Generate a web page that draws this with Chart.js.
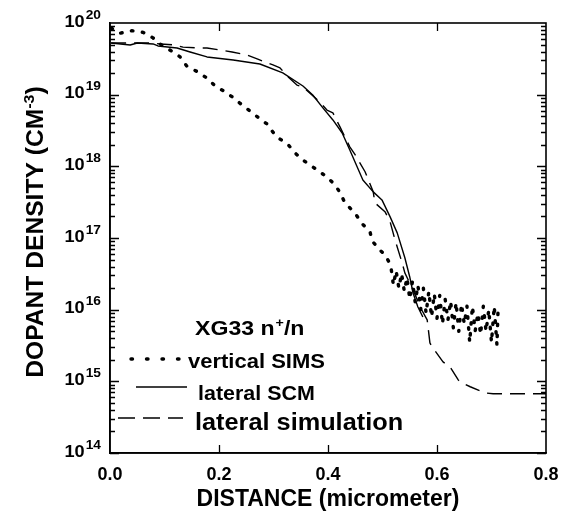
<!DOCTYPE html>
<html><head><meta charset="utf-8">
<script src="https://cdn.jsdelivr.net/npm/chart.js@4"></script>
<style>html,body{margin:0;padding:0;background:#fff}canvas{display:block}</style>
</head><body>
<canvas id="c" width="570" height="519"></canvas>
<script>
// ---- data ----
const simsX = [0.002,0.018,0.040,0.061,0.079,0.095,0.112,0.128,0.141,0.160,0.178,0.193,0.209,0.228,0.242,0.257,0.272,0.288,0.299,0.312,0.327,0.339,0.352,0.361,0.380,0.398,0.413,0.422,0.431,0.450,0.462,0.477,0.481,0.495,0.505,0.510,
  0.515,0.520,0.525,0.530,0.535,0.540,0.545,0.550,0.555,0.560,0.565,0.570,0.575,0.580,0.585,0.590,0.595,0.600,0.605,0.610,0.615,0.620,0.625,0.630,0.635,0.640,0.645,0.650,0.655,0.660,0.665,0.670,0.675,0.680,0.685,0.690,0.695,0.700,0.705,0.710,0.712];
const simsY = [8.5e19,7.2e19,7.8e19,7.4e19,6.2e19,4.9e19,4.1e19,3.4e19,2.5e19,2.1e19,1.7e19,1.32e19,1.12e19,8.9e18,7.2e18,5.9e18,4.8e18,3.9e18,3.0e18,2.4e18,2.0e18,1.55e18,1.26e18,1.12e18,8.9e17,7.1e17,5.5e17,4.3e17,3.1e17,2.2e17,1.6e17,1.23e17,9.1e16,6.8e16,5.8e16,4.9e16,
  4.2e16,2.2e16,3.5e16,2.0e16,3.2e16,1.8e16,2.8e16,1.4e16,2.5e16,1.26e16,2.2e16,1.0e16,2.0e16,8.9e15,1.8e16,7.9e15,1.66e16,7.6e15,1.58e16,6.3e15,1.4e16,7.1e15,1.32e16,5.6e15,1.26e16,5.0e15,1.2e16,6.3e15,1.12e16,3.5e15,1.12e16,5.0e15,8.9e15,4.5e15,1.12e16,5.0e15,1.0e16,3.5e15,1.12e16,3.2e15,1.0e16];

const scmX = [0.002,0.037,0.050,0.079,0.088,0.123,0.147,0.178,0.226,0.275,0.317,0.354,0.372,0.391,0.409,0.426,0.440,0.464,0.483,0.499,0.514,0.527,0.541,0.550,0.556,0.565,0.574];
const scmY = [5.26e19,4.93e19,5.26e19,5.1e19,4.78e19,4.48e19,3.94e19,3.36e19,3.05e19,2.68e19,2.01e19,1.32e19,9.9e18,6.5e18,4.44e18,2.92e18,1.69e18,6.46e17,4.4e17,3.4e17,1.97e17,1.18e17,5.3e16,2.86e16,1.71e16,1.09e16,7.9e15];

const simX = [0.002,0.050,0.073,0.092,0.119,0.134,0.165,0.178,0.202,0.224,0.251,0.270,0.299,0.312,0.327,0.343,0.354,0.385,0.398,0.409,0.422,0.440,0.450,0.468,0.483,0.486,0.505,0.514,0.523,0.536,0.541,0.556,0.572,0.582,0.587,0.591,0.611,0.624,0.639,0.642,0.661,0.688,0.703,0.800];
const simY = [5.26e19,5.26e19,5.26e19,5.1e19,4.93e19,4.6e19,4.48e19,4.48e19,4.2e19,3.94e19,3.58e19,3.15e19,2.6e19,2.36e19,1.77e19,1.36e19,1.28e19,7.9e18,6.1e18,5.56e18,3.55e18,1.87e18,1.44e18,8.4e17,4.4e17,3.1e17,2.3e17,1.68e17,9.4e16,4.5e16,3.26e16,1.89e16,9.9e15,7.2e15,3.44e15,3.03e15,1.87e15,1.59e15,1.05e15,9.8e14,8.4e14,6.9e14,6.7e14,6.7e14];

const seriesNames = ['vertical SIMS','lateral SCM','lateral simulation'];
const legendTitle = ['XG33 n','+','/n'];
const xTickStep = 0.2;
const yDecades = [14,15,16,17,18,19,20];
const xTitle = 'DISTANCE (micrometer)';
const yTitle = ['DOPANT DENSITY (CM','-3',')'];

// ---- drawing ----
const FAM = "'Liberation Sans', Arial, Helvetica, sans-serif";
function pts(xs, ys){ return xs.map((x,i)=>({x:x, y:ys[i]})); }

function txt(ctx, s, x, y, size, stretch){
  ctx.save();
  ctx.font = 'bold ' + size + 'px ' + FAM;
  ctx.textAlign = 'left'; ctx.textBaseline = 'alphabetic';
  ctx.translate(x, y); ctx.scale(stretch || 1, 1);
  ctx.fillText(s, 0, 0);
  const w = ctx.measureText(s).width * (stretch || 1);
  ctx.restore();
  return w;
}
function measure(ctx, s, size, stretch){
  ctx.save(); ctx.font = 'bold ' + size + 'px ' + FAM;
  const w = ctx.measureText(s).width * (stretch||1); ctx.restore(); return w;
}

const decor = {
  id: 'decor',
  afterDatasetsDraw(chart){
    const ctx = chart.ctx;
    const {left, right, top, bottom} = chart.chartArea;
    const xs = chart.scales.x, ys = chart.scales.y;
    ctx.save();
    ctx.fillStyle = '#000';
    ctx.strokeStyle = '#000';
    ctx.lineWidth = 1.6;
    ctx.setLineDash([]);
    ctx.strokeRect(left, top, right - left, bottom - top);
    ctx.lineWidth = 1.3;
    ctx.beginPath();
    for (let v = xTickStep; v < 0.8 - 1e-9; v += xTickStep) {
      const px = Math.round(xs.getPixelForValue(v)) + 0.5;
      ctx.moveTo(px, bottom); ctx.lineTo(px, bottom - 8);
      ctx.moveTo(px, top); ctx.lineTo(px, top + 8);
    }
    for (let d = yDecades[0]; d < yDecades[yDecades.length-1]; d++) {
      for (let m = 1; m <= 9; m++) {
        const py = Math.round(ys.getPixelForValue(m * Math.pow(10, d))) + 0.5;
        const len = m === 1 ? 9 : 5;
        ctx.moveTo(left, py); ctx.lineTo(left + len, py);
        ctx.moveTo(right, py); ctx.lineTo(right - len, py);
      }
    }
    ctx.stroke();
    ctx.restore();
  },
  afterDraw(chart){
    const ctx = chart.ctx;
    const ys = chart.scales.y;
    const {top, bottom} = chart.chartArea;
    ctx.save();
    ctx.fillStyle = '#000';
    // y tick labels 10^n
    yDecades.forEach(d => {
      const py = ys.getPixelForValue(Math.pow(10, d));
      const st = 1.1;
      const w10 = measure(ctx, '10', 16.5, st);
      const we = measure(ctx, String(d), 12.5, st);
      const start = 101 - (w10 + 1 + we);
      txt(ctx, '10', start, py + 3.5, 16.5, st);
      txt(ctx, String(d), start + w10 + 1, py - 4.5, 12.5, st);
    });
    // y title (rotated)
    const st = 1.07, fs = 23, fsup = 15;
    const w1 = measure(ctx, yTitle[0], fs, st), w2 = measure(ctx, yTitle[1], fsup, st), w3 = measure(ctx, yTitle[2], fs, st);
    const tot = w1 + w2 + w3;
    ctx.save();
    ctx.translate(43, (top + bottom) / 2 - 6);
    ctx.rotate(-Math.PI / 2);
    let x0 = -tot / 2;
    txt(ctx, yTitle[0], x0, 0, fs, st); x0 += w1;
    txt(ctx, yTitle[1], x0, -9, fsup, st); x0 += w2;
    txt(ctx, yTitle[2], x0, 0, fs, st);
    ctx.restore();

    // legend
    const ds = chart.data.datasets;
    let lx = 195;
    lx += txt(ctx, legendTitle[0], lx, 335, 21, 1.1);
    lx += txt(ctx, legendTitle[1], lx + 1, 327, 13, 1.1) + 1;
    txt(ctx, legendTitle[2], lx, 335, 21, 1.1);

    const rows = [
      {y: 359, x0: 131, x1: 181, tx: 188, ty: 368, fs: 20, dash: [1.5, 14]},
      {y: 387, x0: 136, x1: 187, tx: 198, ty: 400, fs: 19.5, dash: []},
      {y: 418, x0: 118, x1: 183, tx: 195, ty: 430, fs: 23, dash: [17, 8]}
    ];
    rows.forEach((r, i) => {
      ctx.save();
      ctx.strokeStyle = '#000';
      ctx.lineWidth = ds[i].borderWidth;
      ctx.lineCap = ds[i].borderCapStyle || 'butt';
      ctx.setLineDash(r.dash);
      ctx.beginPath(); ctx.moveTo(r.x0, r.y); ctx.lineTo(r.x1, r.y); ctx.stroke();
      ctx.restore();
      txt(ctx, seriesNames[i], r.tx, r.ty, r.fs, 1.1);
    });
    ctx.restore();
  }
};

new Chart(document.getElementById('c'), {
  type: 'line',
  data: {
    datasets: [
      {label: seriesNames[0], data: pts(simsX, simsY), borderColor: '#000', borderWidth: 3.4, borderDash: [1.5, 9.5], borderCapStyle: 'round', borderJoinStyle: 'round', pointRadius: 0, fill: false, tension: 0},
      {label: seriesNames[1], data: pts(scmX, scmY), borderColor: '#000', borderWidth: 1.4, borderJoinStyle: 'round', pointRadius: 0, fill: false, tension: 0},
      {label: seriesNames[2], data: pts(simX, simY), borderColor: '#000', borderWidth: 1.4, borderDash: [15, 8], borderJoinStyle: 'round', pointRadius: 0, fill: false, tension: 0}
    ]
  },
  options: {
    responsive: false, animation: false, devicePixelRatio: 1,
    layout: {padding: {top: 23, right: 24, left: 0, bottom: 0}},
    plugins: {legend: {display: false}, tooltip: {enabled: false}},
    scales: {
      x: {
        type: 'linear', min: 0, max: 0.8,
        ticks: {stepSize: xTickStep, callback: v => Number(v).toFixed(1), font: {family: FAM, size: 18, weight: 'bold'}, color: '#000', padding: 11, maxRotation: 0, autoSkip: false},
        grid: {display: false, drawTicks: false},
        border: {display: true, color: '#000', width: 1.6},
        title: {display: true, text: xTitle, font: {family: FAM, size: 23, weight: 'bold'}, color: '#000', padding: {top: 0, bottom: 6}},
        afterFit: s => { s.height = 66; }
      },
      y: {
        type: 'logarithmic', min: 1e14, max: 1e20,
        ticks: {display: false},
        grid: {display: false, drawTicks: false},
        border: {display: true, color: '#000', width: 1.6},
        afterFit: s => { s.width = 110; }
      }
    }
  },
  plugins: [decor]
});
</script>
</body></html>
